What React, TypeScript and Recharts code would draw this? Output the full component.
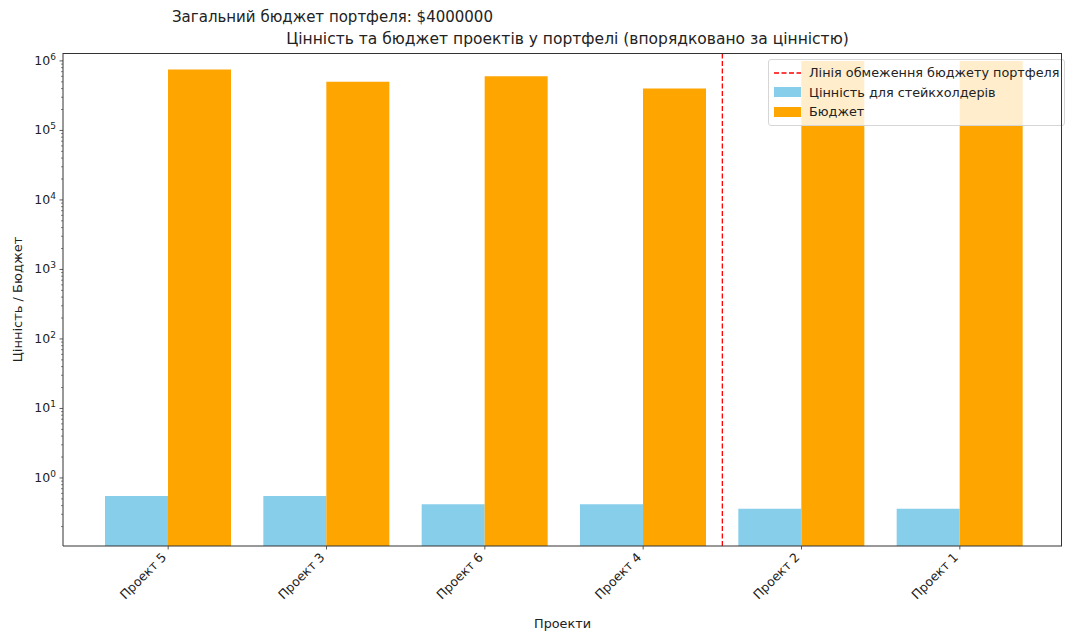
import React from 'react';
import { BarChart, Bar, XAxis, YAxis, ReferenceLine, Legend } from 'recharts';

const projects = ['Проект 5', 'Проект 3', 'Проект 6', 'Проект 4', 'Проект 2', 'Проект 1'];
const stakeholderValue = [0.55, 0.55, 0.42, 0.42, 0.36, 0.36];
const budget = [750000, 500000, 600000, 400000, 1000000, 1000000];
const majorTicks = [1, 10, 100, 1000, 10000, 100000, 1000000];
const minorMultipliers = [2, 3, 4, 5, 6, 7, 8, 9];
const minorBases = [0.1, 1, 10, 100, 1000, 10000, 100000];
const budgetLimitAfter = 'Проект 4';

const suptitle = 'Загальний бюджет портфеля: $4000000';
const title = 'Цінність та бюджет проектів у портфелі (впорядковано за цінністю)';
const xLabel = 'Проекти';
const yLabel = 'Цінність / Бюджет';
const legendLabels = ['Лінія обмеження бюджету портфеля', 'Цінність для стейкхолдерів', 'Бюджет'];

const data = projects.map((name, i) => ({ name, value: stakeholderValue[i], budget: budget[i] }));
const minorTicks = minorBases.flatMap((b) => minorMultipliers.map((m) => +(b * m).toPrecision(3)));
const allTicks = [...majorTicks, ...minorTicks];

const FONT = '"DejaVu Sans", sans-serif';
const BLUE = '#87CEEB';
const ORANGE = '#FFA500';
const AXIS = '#333';
const TXT = '#222';

const CHART_W = 1068;
const CHART_H = 631;
const MARGIN = { top: 53, right: 6, bottom: 0, left: 13 };
const Y_AXIS_W = 50;
const X_AXIS_H = 85;

const YTick = (props: any) => {
  const { x, y, payload } = props;
  const v = payload.value;
  const isMajor = majorTicks.includes(v);
  const exp = Math.round(Math.log10(v));
  return (
    <g>
      <line x1={x - (isMajor ? 3.5 : 2)} x2={x} y1={y} y2={y} stroke={AXIS} strokeWidth={isMajor ? 0.8 : 0.6} />
      {isMajor && (
        <text x={x - 7} y={y + 4} textAnchor="end" fontSize={12.5} fill={TXT} fontFamily={FONT}>
          10<tspan dy={-5} fontSize={9}>{exp}</tspan>
        </text>
      )}
    </g>
  );
};

const XTick = (props: any) => {
  const { x, y, payload } = props;
  return (
    <g transform={`translate(${x},${y})`}>
      <line x1={0} x2={0} y1={0} y2={3.5} stroke={AXIS} strokeWidth={0.8} />
      <text x={0} y={0} transform="translate(-1,12) rotate(-45)" textAnchor="end" fontSize={12.5} fill={TXT} fontFamily={FONT}>
        {payload.value}
      </text>
    </g>
  );
};

const LegendBox = () => (
  <div
    style={{
      background: 'rgba(255,255,255,0.8)',
      border: '1px solid #d6d6d6',
      borderRadius: 3,
      padding: '3px 4px 3px 5px',
      fontFamily: FONT,
      fontSize: 12.8,
      color: TXT,
      lineHeight: '19.5px',
      whiteSpace: 'nowrap',
    }}
  >
    <div style={{ display: 'flex', alignItems: 'center' }}>
      <svg width={27} height={10} style={{ marginRight: 8 }}>
        <line x1={0} x2={27} y1={5} y2={5} stroke="red" strokeWidth={1.5} strokeDasharray="5 2.5" />
      </svg>
      {legendLabels[0]}
    </div>
    <div style={{ display: 'flex', alignItems: 'center' }}>
      <svg width={27} height={10} style={{ marginRight: 8 }}>
        <rect x={0} y={0} width={27} height={10} fill={BLUE} />
      </svg>
      {legendLabels[1]}
    </div>
    <div style={{ display: 'flex', alignItems: 'center' }}>
      <svg width={27} height={10} style={{ marginRight: 8 }}>
        <rect x={0} y={0} width={27} height={10} fill={ORANGE} />
      </svg>
      {legendLabels[2]}
    </div>
  </div>
);

export default function App() {
  const plotLeft = MARGIN.left + Y_AXIS_W;
  const plotTop = MARGIN.top;
  const plotW = CHART_W - plotLeft - MARGIN.right;
  const plotH = CHART_H - MARGIN.top - MARGIN.bottom - X_AXIS_H;
  return (
    <div style={{ position: 'absolute', left: 0, top: 0, width: CHART_W, height: CHART_H, background: '#fff', fontFamily: FONT }}>
      <div style={{ position: 'absolute', left: 172, top: 8, fontSize: 15, color: TXT, whiteSpace: 'nowrap' }}>{suptitle}</div>
      <div style={{ position: 'absolute', left: 0, width: 1135, top: 30, textAlign: 'center', fontSize: 15.5, color: TXT, whiteSpace: 'nowrap' }}>
        {title}
      </div>
      <BarChart
        width={CHART_W}
        height={CHART_H}
        data={data}
        margin={MARGIN}
        barGap={0}
        style={{ position: 'absolute', left: 0, top: 0 }}
      >
        <XAxis
          dataKey="name"
          height={X_AXIS_H}
          padding={{ left: 26, right: 23 }}
          tick={<XTick />}
          tickLine={false}
          tickSize={0}
          tickMargin={0}
          interval={0}
          axisLine={{ stroke: AXIS, strokeWidth: 1 }}
          label={{ value: xLabel, position: 'insideBottom', offset: 3, fontSize: 12.8, fill: TXT, fontFamily: FONT }}
        />
        <YAxis
          scale="log"
          type="number"
          domain={[0.105, 1300000]}
          allowDataOverflow
          ticks={allTicks}
          interval={0}
          width={Y_AXIS_W}
          tick={<YTick />}
          tickLine={false}
          tickSize={0}
          tickMargin={0}
          axisLine={{ stroke: AXIS, strokeWidth: 1 }}
          label={{
            value: yLabel,
            angle: -90,
            position: 'insideLeft',
            offset: 4,
            fontSize: 13,
            fill: TXT,
            fontFamily: FONT,
            style: { textAnchor: 'middle' },
          }}
        />
        <Bar dataKey="value" fill={BLUE} barSize={63} isAnimationActive={false} />
        <Bar dataKey="budget" fill={ORANGE} barSize={63} isAnimationActive={false} />
        <ReferenceLine x={budgetLimitAfter} position="end" stroke="red" strokeWidth={1.3} strokeDasharray="5 2.5" />
        <Legend
          layout="horizontal"
          verticalAlign="middle"
          align="center"
          content={<LegendBox />}
          wrapperStyle={{ position: 'absolute', top: 59, left: 768, width: 'auto', height: 'auto' }}
        />
      </BarChart>
      <div
        style={{
          position: 'absolute',
          left: plotLeft,
          top: plotTop - 0.5,
          width: plotW,
          height: plotH,
          borderTop: `1px solid ${AXIS}`,
          borderRight: `1px solid ${AXIS}`,
          boxSizing: 'border-box',
          pointerEvents: 'none',
        }}
      />
    </div>
  );
}
